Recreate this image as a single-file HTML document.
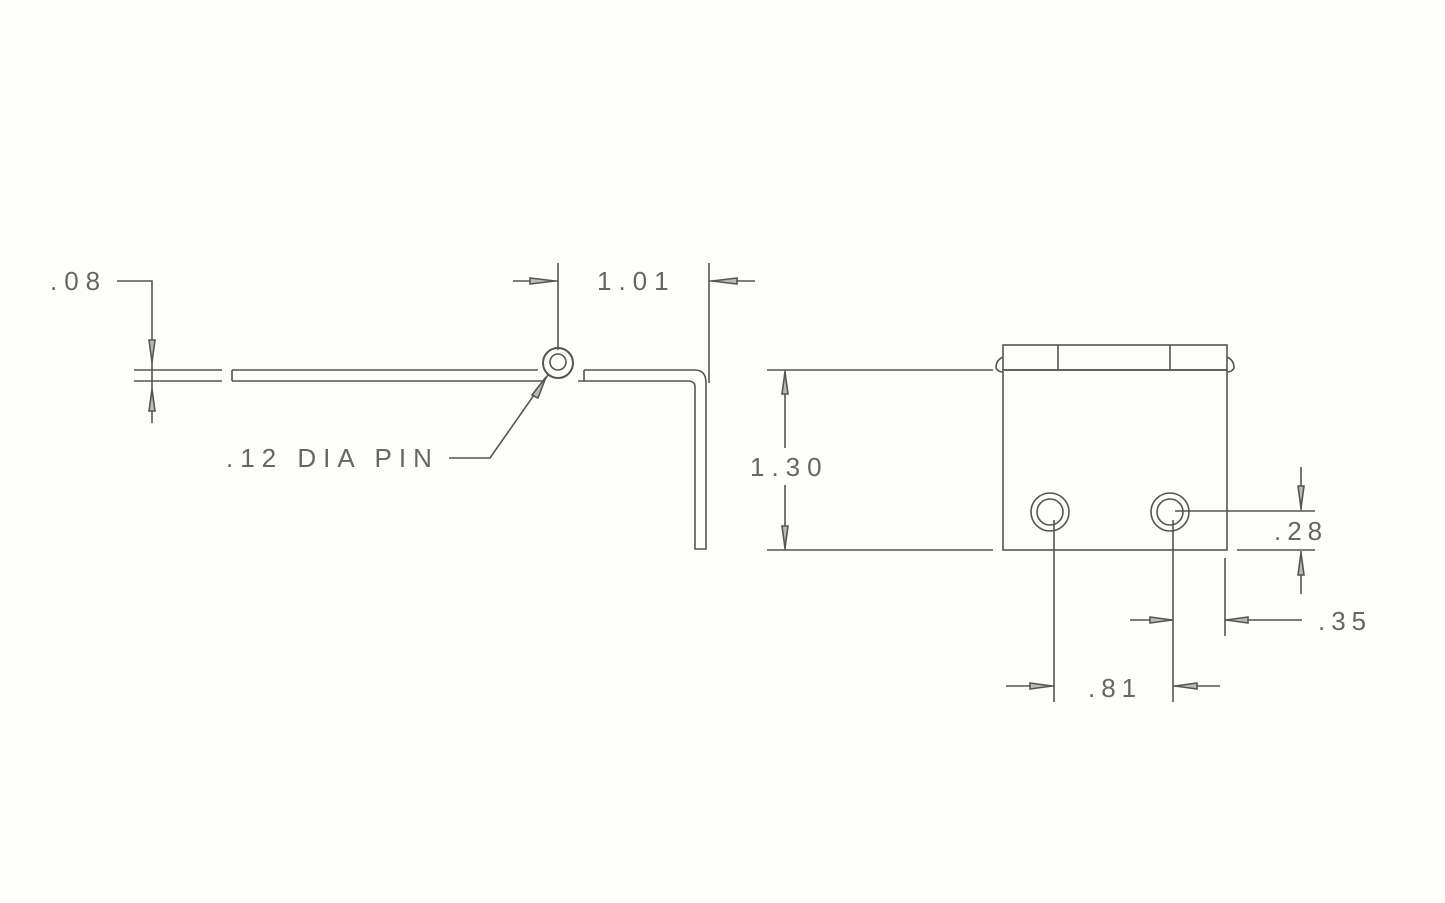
<!DOCTYPE html>
<html><head><style>
html,body{margin:0;padding:0;background:#fdfdf9;}
svg{display:block}
text{font-family:"Liberation Sans",sans-serif;font-size:26px;fill:#666;letter-spacing:6px}
</style></head><body>
<svg width="1445" height="903" viewBox="0 0 1445 903" fill="none" stroke="#555" stroke-width="1.6">
<rect width="1445" height="903" fill="#fdfdf9" stroke="none"/>
<text x="50" y="290" stroke="none" style="letter-spacing:7px">.08</text>
<polyline points="117,281 152,281 152,423"/>
<line x1="134" y1="370" x2="222" y2="370"/><line x1="134" y1="381" x2="222" y2="381"/>
<path d="M149,340 l3,22 l3,-22 z M149,411 l3,-22 l3,22 z" fill="#bbb"/>
<path d="M232,370 H538 M232,381 H545 M232,370 V381"/>
<path d="M584,370 H695 Q706,370 706,383 V549 H695 V387 Q695,381 688,381 H578"/>
<line x1="584" y1="370" x2="584" y2="381"/>
<circle cx="558" cy="363" r="15" stroke-width="2"/>
<circle cx="558" cy="362" r="8"/>
<line x1="558" y1="263" x2="558" y2="350"/>
<line x1="709" y1="263" x2="709" y2="383"/>
<line x1="513" y1="281" x2="558" y2="281"/><line x1="709" y1="281" x2="755" y2="281"/>
<path d="M530,278 l25,3 l-25,3 z M737,278 l-25,3 l25,3 z" fill="#bbb"/>
<text x="597" y="290" stroke="none" style="letter-spacing:7px">1.01</text>
<text x="226" y="467" stroke="none" style="letter-spacing:7px">.12 DIA PIN</text>
<polyline points="449,458 490,458 548,375"/>
<path d="M532,395 l14,-18 l-8,21 z" fill="#bbb"/>
<rect x="1003" y="370" width="224" height="180"/>
<rect x="1003" y="345" width="224" height="25"/>
<line x1="1058" y1="345" x2="1058" y2="370"/><line x1="1170" y1="345" x2="1170" y2="370"/>
<path d="M1003,357 Q996,360 996,368 Q998,372 1003,372 M1227,357 Q1234,360 1234,368 Q1232,372 1227,372"/>
<line x1="767" y1="370" x2="993" y2="370"/><line x1="767" y1="550" x2="993" y2="550"/>
<line x1="785" y1="370" x2="785" y2="448"/><line x1="785" y1="485" x2="785" y2="550"/>
<path d="M782,394 l3,-22 l3,22 z M782,526 l3,22 l3,-22 z" fill="#bbb"/>
<text x="750" y="476" stroke="none" style="letter-spacing:7px">1.30</text>
<circle cx="1050" cy="512" r="19"/><circle cx="1050" cy="512" r="13"/>
<circle cx="1170" cy="512" r="19"/><circle cx="1170" cy="512" r="13"/>
<line x1="1175" y1="511" x2="1315" y2="511"/>
<line x1="1237" y1="550" x2="1315" y2="550"/>
<line x1="1301" y1="467" x2="1301" y2="510"/><line x1="1301" y1="551" x2="1301" y2="594"/>
<path d="M1298,486 l3,22 l3,-22 z M1298,575 l3,-22 l3,22 z" fill="#bbb"/>
<text x="1274" y="540" stroke="none">.28</text>
<line x1="1225" y1="558" x2="1225" y2="636"/>
<line x1="1130" y1="620" x2="1173" y2="620"/><line x1="1225" y1="620" x2="1302" y2="620"/>
<path d="M1150,617 l22,3 l-22,3 z M1248,617 l-22,3 l22,3 z" fill="#bbb"/>
<text x="1318" y="630" stroke="none">.35</text>
<line x1="1054" y1="520" x2="1054" y2="702"/><line x1="1173" y1="520" x2="1173" y2="702"/>
<line x1="1006" y1="686" x2="1054" y2="686"/><line x1="1173" y1="686" x2="1220" y2="686"/>
<path d="M1030,683 l22,3 l-22,3 z M1197,683 l-22,3 l22,3 z" fill="#bbb"/>
<text x="1088" y="697" stroke="none">.81</text>
</svg>
</body></html>
